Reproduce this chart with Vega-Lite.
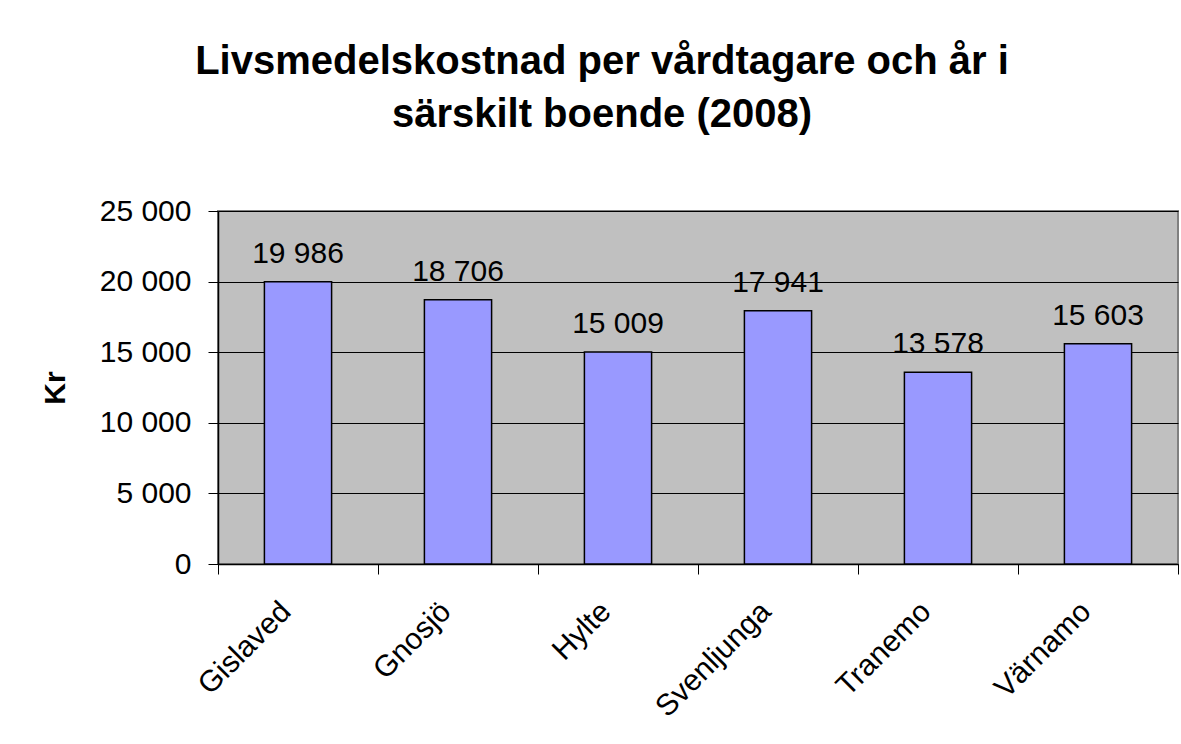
{
  "$schema": "https://vega.github.io/schema/vega-lite/v6.json",
  "width": 960,
  "height": 353,
  "autosize": {"type": "none"},
  "padding": {"left": 218, "top": 211, "right": 3, "bottom": 180},
  "background": "white",
  "config": {
    "locale": {"number": {"decimal": ",", "thousands": " ", "grouping": [3], "currency": ["", " kr"]}},
    "font": "Liberation Sans",
    "view": {"fill": "#C0C0C0", "stroke": "#808080", "strokeWidth": 2}
  },
  "title": {
    "text": ["Livsmedelskostnad per vårdtagare och år i", "särskilt boende (2008)"],
    "font": "Liberation Sans",
    "fontSize": 40,
    "fontWeight": "bold",
    "color": "black",
    "anchor": "middle",
    "baseline": "alphabetic",
    "lineHeight": 53,
    "dx": -96,
    "offset": 29
  },
  "data": {
    "values": [
      {"kommun": "Gislaved", "kostnad": 19986},
      {"kommun": "Gnosjö", "kostnad": 18706},
      {"kommun": "Hylte", "kostnad": 15009},
      {"kommun": "Svenljunga", "kostnad": 17941},
      {"kommun": "Tranemo", "kostnad": 13578},
      {"kommun": "Värnamo", "kostnad": 15603}
    ]
  },
  "encoding": {
    "x": {
      "field": "kommun",
      "type": "nominal",
      "sort": null,
      "scale": {"paddingInner": 0, "paddingOuter": 0},
      "axis": {
        "title": null,
        "labelAngle": -45,
        "labelAlign": "right",
        "labelBaseline": "top",
        "labelFontSize": 30,
        "labelColor": "black",
        "labelOffset": -23,
        "labelPadding": 22,
        "tickBand": "extent",
        "tickSize": 10,
        "tickColor": "black",
        "tickWidth": 1,
        "domainColor": "black",
        "domainWidth": 1.5,
        "grid": false
      }
    }
  },
  "layer": [
    {
      "mark": {"type": "bar", "width": {"band": 0.42}, "fill": "#9999FF", "stroke": "black", "strokeWidth": 1.5},
      "encoding": {
        "y": {
          "field": "kostnad",
          "type": "quantitative",
          "scale": {"domain": [0, 25000], "nice": false},
          "axis": {
            "title": "Kr",
            "titleFontSize": 30,
            "titleFontWeight": "bold",
            "titleColor": "black",
            "titlePadding": 29,
            "values": [0, 5000, 10000, 15000, 20000, 25000],
            "format": ",d",
            "labelFontSize": 30,
            "labelColor": "black",
            "labelPadding": 17,
            "tickSize": 10,
            "tickColor": "black",
            "domainColor": "black",
            "domainWidth": 1.5,
            "grid": true,
            "gridColor": "black",
            "gridWidth": 1
          }
        }
      }
    },
    {
      "mark": {"type": "text", "baseline": "alphabetic", "dy": -19, "fontSize": 30, "color": "black"},
      "encoding": {
        "y": {"field": "kostnad", "type": "quantitative"},
        "text": {"field": "kostnad", "type": "quantitative", "format": ",d"}
      }
    }
  ]
}
